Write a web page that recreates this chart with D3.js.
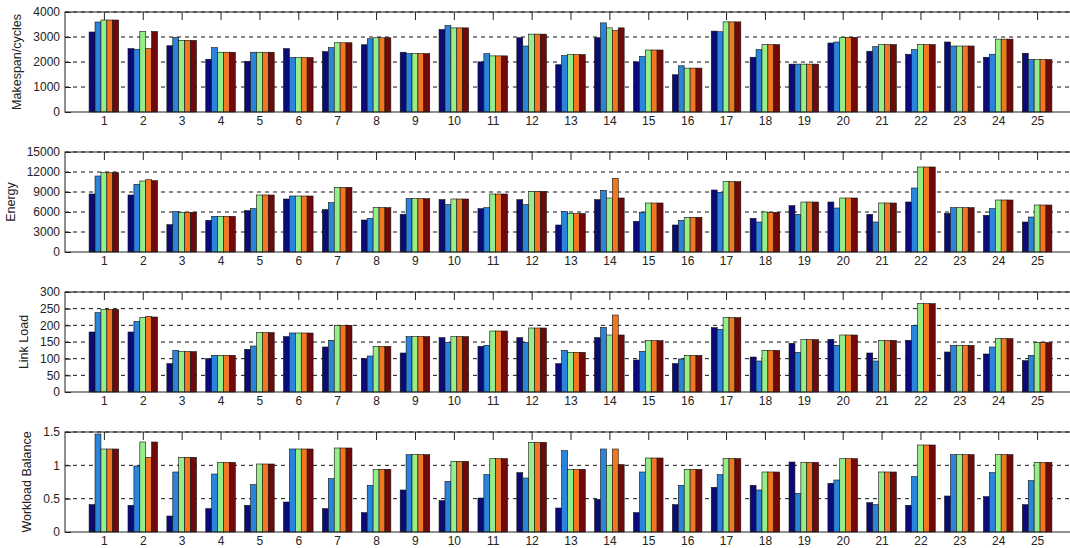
<!DOCTYPE html>
<html>
<head>
<meta charset="utf-8">
<script src="https://cdn.jsdelivr.net/npm/d3@7"></script>
<style>
  body { margin: 0; background: #fff; }
  text { font-family: "Liberation Sans", Arial, sans-serif; fill: #222; }
</style>
</head>
<body>
<script>
// 25 test cases, 5 methods per case
var groups = d3.range(1, 26)
var seriesColors = ["#0a0a78", "#2b84dc", "#96ee8a", "#f07820", "#700a0a"]

var makespanNavy   = [3200,2535,2650,2110,2030,2535,2415,2690,2390,3300,2005,2970,1890,2970,2005,1490,3235,2190,1915,2760,2430,2310,2800,2190,2350]
var makespanBlue   = [3600,2510,2985,2575,2390,2180,2575,2930,2335,3460,2335,2640,2255,3565,2220,1850,3210,2495,1915,2800,2615,2495,2640,2310,2100]
var makespanGreen  = [3680,3220,2865,2390,2390,2180,2770,2970,2335,3365,2245,3115,2295,3365,2480,1755,3605,2695,1915,2985,2695,2695,2640,2915,2100]
var makespanOrange = [3680,2535,2865,2390,2390,2180,2770,2970,2335,3365,2245,3115,2295,3260,2480,1755,3605,2695,1915,2985,2695,2695,2640,2915,2100]
var makespanRed    = [3680,3220,2865,2390,2390,2180,2770,2970,2335,3365,2245,3115,2295,3365,2480,1755,3605,2695,1915,2985,2695,2695,2640,2915,2100]

var energyNavy   = [8700,8550,4100,4750,6200,7950,6350,4800,5650,7850,6500,7850,4050,7850,4600,4050,9300,5050,6950,7500,5650,7500,5800,5500,4500]
var energyBlue   = [11400,10150,6050,5350,6500,8400,7400,5050,8000,7100,6650,7100,6050,9250,5950,4750,8950,4500,5650,6600,4500,9600,6650,6500,5250]
var energyGreen  = [11900,10650,5950,5350,8550,8400,9700,6650,8000,7950,8700,9100,5750,8100,7350,5200,10550,6000,7500,8100,7350,12750,6650,7800,7050]
var energyOrange = [11900,10850,5950,5350,8550,8400,9700,6650,8000,7950,8700,9100,5750,11050,7350,5200,10550,5900,7500,8100,7350,12750,6650,7800,7050]
var energyRed    = [11900,10700,5950,5350,8550,8400,9700,6650,8000,7950,8700,9100,5750,8100,7350,5200,10550,5950,7500,8100,7350,12750,6650,7800,7050]

var linkNavy   = [180,180,85,100,128,166,135,100,117,163,137,163,85,163,96,85,193,105,146,158,117,155,120,114,94]
var linkBlue   = [238,212,125,110,138,177,155,108,166,149,140,149,125,194,122,99,188,93,119,140,93,199,140,135,110]
var linkGreen  = [248,224,121,110,178,177,200,137,166,166,183,192,119,171,154,110,223,125,157,171,155,265,140,160,149]
var linkOrange = [248,227,121,110,178,177,200,137,166,166,183,192,119,231,154,110,223,125,157,171,155,265,140,160,149]
var linkRed    = [248,225,121,110,178,177,200,137,166,166,183,192,119,171,154,110,223,125,157,171,155,265,140,160,148]

var balanceNavy   = [0.41,0.40,0.24,0.35,0.40,0.45,0.35,0.29,0.63,0.47,0.51,0.89,0.36,0.49,0.29,0.41,0.67,0.70,1.05,0.73,0.44,0.40,0.54,0.53,0.41]
var balanceBlue   = [1.47,0.99,0.90,0.87,0.71,1.245,0.80,0.70,1.16,0.76,0.86,0.81,1.22,1.245,0.90,0.70,0.86,0.63,0.58,0.78,0.41,0.83,1.16,0.89,0.77]
var balanceGreen  = [1.245,1.35,1.12,1.045,1.02,1.245,1.26,0.94,1.16,1.06,1.10,1.345,0.94,1.00,1.11,0.94,1.10,0.90,1.045,1.10,0.90,1.305,1.16,1.16,1.045]
var balanceOrange = [1.245,1.12,1.12,1.045,1.02,1.245,1.26,0.94,1.16,1.06,1.10,1.345,0.94,1.245,1.11,0.94,1.10,0.90,1.045,1.10,0.90,1.305,1.16,1.16,1.045]
var balanceRed    = [1.245,1.35,1.12,1.045,1.02,1.245,1.26,0.94,1.16,1.06,1.10,1.345,0.94,1.01,1.11,0.94,1.10,0.90,1.045,1.10,0.90,1.305,1.16,1.16,1.045]

var yTicksMakespan = [0, 1000, 2000, 3000, 4000]
var yTicksEnergy   = [0, 3000, 6000, 9000, 12000, 15000]
var yTicksLink     = [0, 50, 100, 150, 200, 250, 300]
var yTicksBalance  = [0, 0.5, 1, 1.5]

var panels = [
  {label: "Makespan/cycles",  series: [makespanNavy, makespanBlue, makespanGreen, makespanOrange, makespanRed], ticks: yTicksMakespan, top: 12},
  {label: "Energy",           series: [energyNavy, energyBlue, energyGreen, energyOrange, energyRed],             ticks: yTicksEnergy,   top: 152},
  {label: "Link Load",        series: [linkNavy, linkBlue, linkGreen, linkOrange, linkRed],                       ticks: yTicksLink,     top: 292},
  {label: "Workload Balance", series: [balanceNavy, balanceBlue, balanceGreen, balanceOrange, balanceRed],        ticks: yTicksBalance,  top: 432}
]

var width = 1070, height = 548
var left = 65, right = 1076, panelH = 100
var groupWidth = 0.76, nSeries = 5, bw = groupWidth / nSeries

var svg = d3.select("body").append("svg").attr("width", width).attr("height", height)

var x = d3.scaleLinear().domain([0, 26]).range([left, right])

panels.forEach(function(p) {
  var y = d3.scaleLinear().domain([0, d3.max(p.ticks)]).range([p.top + panelH, p.top])
  var g = svg.append("g")

  // dashed grid
  g.selectAll("line.grid").data(p.ticks.filter(function(t){ return t > 0 })).enter()
    .append("line").attr("class", "grid")
    .attr("x1", left).attr("x2", right)
    .attr("y1", function(d){ return y(d) }).attr("y2", function(d){ return y(d) })
    .attr("stroke", "#111").attr("stroke-width", 1).attr("stroke-dasharray", "4,4")

  // bars
  p.series.forEach(function(vals, s) {
    g.selectAll("rect.s" + s).data(vals).enter()
      .append("rect").attr("class", "s" + s)
      .attr("x", function(d, i){ return x(i + 1 - groupWidth / 2 + s * bw) })
      .attr("width", x(bw) - x(0))
      .attr("y", function(d){ return y(d) })
      .attr("height", function(d){ return y(0) - y(d) })
      .attr("fill", seriesColors[s])
      .attr("stroke", "#111").attr("stroke-width", 0.6)
  })

  // box
  g.append("rect").attr("x", left).attr("y", p.top).attr("width", right - left).attr("height", panelH)
    .attr("fill", "none").attr("stroke", "#222").attr("stroke-width", 1)

  // y axis
  var yAxis = d3.axisLeft(y).tickValues(p.ticks).tickSize(-6).tickPadding(5)
    .tickFormat(function(d){ return d3.format("")(d) })
  var ya = g.append("g").attr("transform", "translate(" + left + ",0)").call(yAxis)
  ya.select(".domain").remove()
  ya.selectAll("line").attr("stroke", "#222")
  ya.selectAll("text").style("font-size", "12px").attr("fill", "#222")

  // top ticks
  var ta = g.append("g").attr("transform", "translate(0," + p.top + ")")
    .call(d3.axisTop(x).tickValues(groups).tickSize(-8).tickFormat(""))
  ta.select(".domain").remove()
  ta.selectAll("line").attr("stroke", "#222")

  // bottom labels
  var xa = g.append("g").attr("transform", "translate(0," + (p.top + panelH) + ")")
    .call(d3.axisBottom(x).tickValues(groups).tickSize(0).tickPadding(4.5))
  xa.select(".domain").remove()
  xa.selectAll("text").style("font-size", "12px").attr("fill", "#222")

  // y label placed left of the widest tick label
  var minX = d3.min(ya.selectAll("text").nodes(), function(n){ return n.getBBox().x }) + left
  g.append("text")
    .attr("transform", "translate(" + (minX - 16) + "," + (p.top + panelH / 2) + ") rotate(-90)")
    .attr("text-anchor", "middle").attr("dominant-baseline", "central")
    .style("font-size", "12.5px")
    .text(p.label)
})
</script>
</body>
</html>
